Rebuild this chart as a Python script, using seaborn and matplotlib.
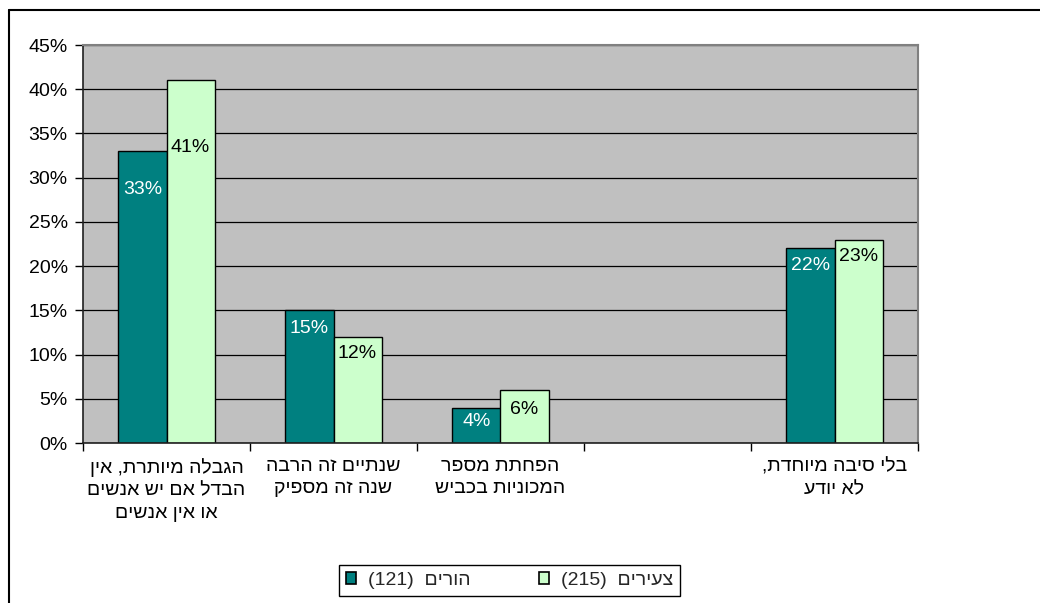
import numpy as np
import pandas as pd
import matplotlib
matplotlib.use("Agg")
import matplotlib.pyplot as plt
from matplotlib.lines import Line2D
from matplotlib.patches import Patch
from matplotlib.ticker import FuncFormatter, FixedLocator
import seaborn as sns

# ---- data (logical Hebrew order) ----
categories = [
    "הגבלה מיותרת, אין\nהבדל אם יש אנשים\nאו אין אנשים",
    "שנתיים זה הרבה\nשנה זה מספיק",
    "הפחתת מספר\nהמכוניות בכביש",
    "",
    "בלי סיבה מיוחדת,\nלא יודע",
]
groups = ["הורים", "צעירים"]
group_n = [121, 215]
parents = [33, 15, 4, np.nan, 22]
youth = [41, 12, 6, np.nan, 23]
yticks = [0, 5, 10, 15, 20, 25, 30, 35, 40, 45]

# layout: pixel drop of each data label below its bar top
label_drop_px = [[38, 67], [18, 17], [14, 20], [0, 0], [17, 17]]

colors = ["#008080", "#CCFFCC"]


def rtl(s):
    return "\n".join(line[::-1] for line in s.split("\n"))


cat_disp = [rtl(c) if c else " " for c in categories]
grp_disp = [f"({n})  {rtl(g)}" for g, n in zip(groups, group_n)]

rows = []
for c, v in zip(cat_disp, parents):
    rows.append((c, grp_disp[0], v))
for c, v in zip(cat_disp, youth):
    rows.append((c, grp_disp[1], v))
df = pd.DataFrame(rows, columns=["category", "group", "value"]).dropna()

sns.set_theme(style="white")
plt.rcParams["font.family"] = ["Liberation Sans", "DejaVu Sans"]
FS = 14

fig = plt.figure(figsize=(10.4, 6.03), dpi=100)
ax = fig.add_axes([83 / 1040, 1 - 443 / 603, 835 / 1040, 398 / 603])
ax.set_facecolor("#C0C0C0")

sns.barplot(data=df, x="category", y="value", hue="group",
            order=cat_disp, hue_order=grp_disp, palette=colors,
            width=0.575, edgecolor="black", linewidth=1.0,
            errorbar=None, legend=False, ax=ax, saturation=1)

ax.set_xlim(-0.5, len(categories) - 0.5)
ax.set_ylim(0, 45)
ax.set_yticks(yticks)
ax.yaxis.set_major_formatter(FuncFormatter(lambda v, p: f"{v:.0f}%"))
ax.set_axisbelow(True)
ax.yaxis.grid(True, color="black", linewidth=0.9)
ax.xaxis.grid(False)
ax.set_xlabel("")
ax.set_ylabel("")

ax.tick_params(axis="y", which="major", direction="out", length=6, width=1,
               color="black", labelsize=FS, pad=5, left=True)
ax.tick_params(axis="x", which="major", length=0, labelsize=FS, pad=11)
ax.xaxis.set_minor_locator(FixedLocator(np.arange(-0.5, len(categories), 1.0)))
ax.tick_params(axis="x", which="minor", direction="out", length=6, width=1,
               color="black", bottom=True)
for lab in ax.get_xticklabels():
    lab.set_multialignment("center")
    lab.set_linespacing(1.4)
    lab.set_color("black")
for lab in ax.get_yticklabels():
    lab.set_color("black")

for side in ["top", "right"]:
    ax.spines[side].set_color("#808080")
    ax.spines[side].set_linewidth(1.5)
for side in ["left", "bottom"]:
    ax.spines[side].set_color("#202020")
    ax.spines[side].set_linewidth(1.2)
    ax.spines[side].set_visible(True)

# data labels
for gi, cont in enumerate(ax.containers):
    for bar in cont:
        h = bar.get_height()
        if not np.isfinite(h) or h == 0:
            continue
        xc = bar.get_x() + bar.get_width() / 2
        ci = int(round(xc))
        drop = label_drop_px[ci][gi]
        ax.annotate(f"{h:.0f}%", (xc, h), xytext=(0, -drop),
                    textcoords="offset pixels", ha="center", va="center",
                    fontsize=FS, color="white" if gi == 0 else "black")

handles = [Patch(facecolor=colors[i], edgecolor="black", linewidth=1.2)
           for i in range(2)]
leg = fig.legend(handles, grp_disp, loc="center", ncol=2,
                 bbox_to_anchor=(509.5 / 1040, 1 - 580.5 / 603),
                 fontsize=FS, frameon=True, fancybox=False, shadow=False,
                 framealpha=1, edgecolor="black", handlelength=0.55,
                 handleheight=0.55, handletextpad=0.6, columnspacing=3.5,
                 borderpad=0.35, borderaxespad=0)
leg.get_frame().set_linewidth(1.0)

# outer chart border (top and left edges visible)
fig.add_artist(Line2D([8.5 / 1040, 1.0], [1 - 9.5 / 603, 1 - 9.5 / 603],
                      transform=fig.transFigure, color="black", linewidth=1.5))
fig.add_artist(Line2D([8.5 / 1040, 8.5 / 1040], [0, 1 - 9.5 / 603],
                      transform=fig.transFigure, color="black", linewidth=1.5))

fig.savefig("out.png", dpi=100, facecolor="white")
